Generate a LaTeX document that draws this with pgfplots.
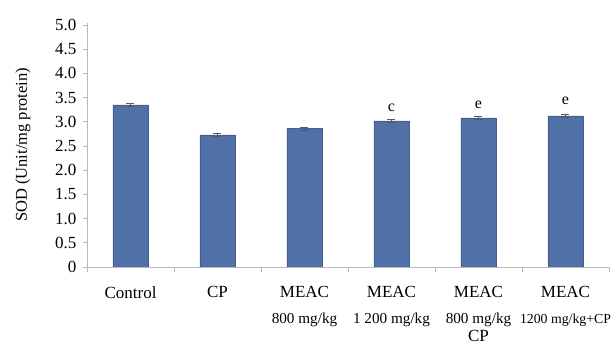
\documentclass[border=0pt]{standalone}
\usepackage{pgfplots}
\pgfplotsset{compat=1.18}
\usepackage{fontspec}
\setmainfont{Liberation Serif}
\definecolor{barblue}{RGB}{80,112,168}
\definecolor{axgray}{RGB}{185,185,185}
\begin{document}
\begin{tikzpicture}
\begin{axis}[
  scale only axis, width=522pt, height=244.4pt,
  xmin=-0.5, xmax=5.5, ymin=0, ymax=5.05,
  axis lines*=left,
  axis line style={axgray, line width=0.8pt},
  tick style={axgray, line width=0.8pt},
  tick align=outside,
  xtick={0,1,2,3,4,5},
  major x tick style={draw=none},
  minor xtick={-0.5,0.5,1.5,2.5,3.5,4.5,5.5},
  minor tick length=5pt,
  major tick length=4pt,
  xticklabels={Control,CP,MEAC\\{\fontsize{15.2}{25}\selectfont 800 mg/kg},MEAC\\{\fontsize{15.2}{25}\selectfont 1 200 mg/kg},MEAC\\{\fontsize{15.2}{25}\selectfont 800 mg/kg}\\[-8pt]CP,MEAC\\{\fontsize{13.8}{25}\selectfont 1200 mg/kg+CP}},
  xticklabel style={align=center, font=\fontsize{17}{26}\selectfont, anchor=north, yshift=-12pt},
  ytick={0,0.5,1,1.5,2,2.5,3,3.5,4,4.5,5},
  yticklabels={0,0.5,1.0,1.5,2.0,2.5,3.0,3.5,4.0,4.5,5.0},
  yticklabel style={font=\fontsize{17}{17}\selectfont, xshift=-3pt},
  ylabel={SOD (Unit/mg protein)},
  ylabel style={font=\fontsize{16.5}{17}\selectfont, at={(axis description cs:-0.1226,0.5)}, anchor=center},
]
\addplot[ybar, bar width=35pt, fill=barblue, draw=barblue!85!black,
  error bars/.cd, y dir=both, y explicit,
  error bar style={black!65, line width=0.8pt},
  error mark options={rotate=90, mark size=4pt, black!65, line width=0.8pt}]
  coordinates {
  (0,3.35) +- (0,0.03)
  (1,2.73) +- (0,0.03)
  (2,2.86) +- (0,0.03)
  (3,3.02) +- (0,0.03)
  (4,3.08) +- (0,0.03)
  (5,3.12) +- (0,0.03)
  };
\node[font=\fontsize{16}{16}\selectfont] at (axis cs:3,3.28) {c};
\node[font=\fontsize{16}{16}\selectfont] at (axis cs:4,3.35) {e};
\node[font=\fontsize{16}{16}\selectfont] at (axis cs:5,3.44) {e};
\end{axis}
\pgfresetboundingbox
\path[use as bounding box] (-87pt,-77pt) rectangle (527pt,267pt);
\end{tikzpicture}
\end{document}
